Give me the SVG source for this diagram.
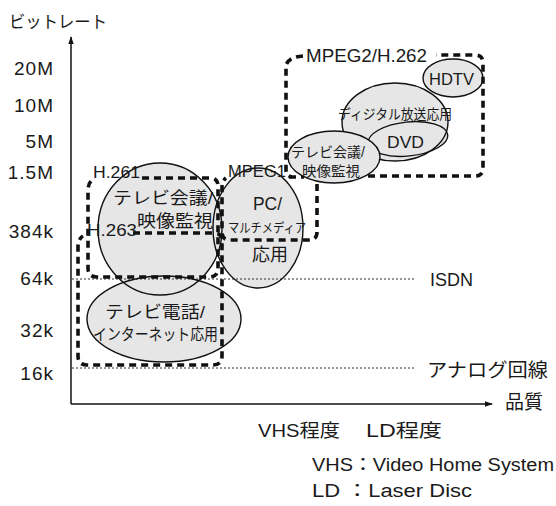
<svg xmlns="http://www.w3.org/2000/svg" width="556" height="506" viewBox="0 0 556 506">
<style>
text{font-family:'Liberation Sans','Noto Sans CJK JP',sans-serif;fill:#1a1a1a;}
.ja{font-family:'Noto Sans CJK JP',sans-serif;}
.fill{fill:#e6e6e6;stroke:none;}
.ell{fill:none;stroke:#111;stroke-width:1.4;}
.dash{fill:none;stroke:#111;stroke-width:3.6;stroke-dasharray:7 5;stroke-linecap:butt;}
.dot{fill:none;stroke:#333;stroke-width:1;stroke-dasharray:2 2;}
.axis{fill:none;stroke:#111;stroke-width:1.5;}
.yl{font-size:19px;text-anchor:end;letter-spacing:1px;}
</style>
<defs>
<marker id="arr" viewBox="0 0 10 10" refX="9" refY="5" markerWidth="8" markerHeight="8" markerUnits="userSpaceOnUse" orient="auto">
<path d="M0,1.5 L10,5 L0,8.5 Z" fill="#111"/>
</marker>
</defs>
<rect width="556" height="506" fill="#fff"/>

<g id="fills">
<ellipse class="fill" cx="160" cy="229" rx="62" ry="66"/>
<ellipse class="fill" cx="164" cy="319" rx="77" ry="43"/>
<ellipse class="fill" cx="258" cy="228" rx="45" ry="60"/>
<ellipse class="fill" cx="395" cy="122" rx="53" ry="39"/>
<ellipse class="fill" cx="408" cy="139" rx="40" ry="17" transform="rotate(-6 408 139)"/>
<ellipse class="fill" cx="453" cy="78" rx="30" ry="19"/>
</g>

<g id="connectors">
<line class="axis" x1="71" y1="404" x2="71" y2="37" marker-end="url(#arr)"/>
<line class="axis" x1="71" y1="404" x2="492" y2="404" marker-end="url(#arr)"/>
<line class="dot" x1="72" y1="279" x2="416" y2="279"/>
<line class="dot" x1="72" y1="368" x2="416" y2="368"/>
</g>

<g id="axis-labels">
<text x="9" y="28" font-size="17" class="ja" textLength="98" lengthAdjust="spacingAndGlyphs">ビットレート</text>
<text class="yl" x="54" y="75">20M</text>
<text class="yl" x="54" y="112">10M</text>
<text class="yl" x="54" y="148">5M</text>
<text class="yl" x="54" y="179">1.5M</text>
<text class="yl" x="54" y="238">384k</text>
<text class="yl" x="54" y="285">64k</text>
<text class="yl" x="54" y="337">32k</text>
<text class="yl" x="54" y="380">16k</text>
<text x="430" y="286" font-size="18" textLength="43" lengthAdjust="spacingAndGlyphs">ISDN</text>
<text x="427" y="377" font-size="19" class="ja" textLength="121" lengthAdjust="spacingAndGlyphs">アナログ回線</text>
<text x="505" y="409" font-size="19" class="ja" textLength="38" lengthAdjust="spacingAndGlyphs">品質</text>
<text x="258" y="437" font-size="18" textLength="82" lengthAdjust="spacingAndGlyphs">VHS程度</text>
<text x="366" y="437" font-size="18" textLength="76" lengthAdjust="spacingAndGlyphs">LD程度</text>
<text x="312" y="471" font-size="18" textLength="242" lengthAdjust="spacingAndGlyphs">VHS：Video Home System</text>
<text x="312" y="497" font-size="18" textLength="160" lengthAdjust="spacingAndGlyphs">LD ：Laser Disc</text>
</g>

<g id="node-tv-conf">
<ellipse class="ell" cx="160" cy="229" rx="62" ry="66"/>
<text x="113" y="204" font-size="16.5" textLength="100" lengthAdjust="spacingAndGlyphs">テレビ会議/</text>
<text x="137" y="227" font-size="17" class="ja" textLength="76" lengthAdjust="spacingAndGlyphs">映像監視</text>
</g>

<g id="node-tv-phone">
<ellipse class="ell" cx="164" cy="319" rx="77" ry="43"/>
<text x="105" y="318" font-size="17" textLength="100" lengthAdjust="spacingAndGlyphs">テレビ電話/</text>
<text x="93" y="340" font-size="16" class="ja" textLength="125" lengthAdjust="spacingAndGlyphs">インターネット応用</text>
</g>

<g id="node-pc">
<ellipse class="ell" cx="258" cy="228" rx="45" ry="60"/>
<text x="253" y="210" font-size="19" textLength="29" lengthAdjust="spacingAndGlyphs">PC/</text>
<text x="228" y="232" font-size="13" class="ja" textLength="78" lengthAdjust="spacingAndGlyphs">マルチメディア</text>
<text x="252" y="261" font-size="18" class="ja" textLength="36" lengthAdjust="spacingAndGlyphs">応用</text>
</g>

<g id="node-digital">
<ellipse class="ell" cx="395" cy="122" rx="53" ry="39"/>
<text x="338" y="119" font-size="14" class="ja" textLength="114" lengthAdjust="spacingAndGlyphs">ディジタル放送応用</text>
</g>

<g id="node-dvd">
<ellipse class="ell" cx="408" cy="139" rx="40" ry="17" transform="rotate(-6 408 139)"/>
<text x="387" y="148" font-size="17" textLength="37" lengthAdjust="spacingAndGlyphs">DVD</text>
</g>

<g id="node-hdtv">
<ellipse class="ell" cx="453" cy="78" rx="30" ry="19"/>
<text x="429" y="85" font-size="17" textLength="45" lengthAdjust="spacingAndGlyphs">HDTV</text>
</g>

<g id="node-h261">
<path class="dash" d="M142 178 H210 Q218 178 218 186 V268 Q218 277 209 277 H97 Q88 277 88 268 V192 Q88 183 92 180"/>
<text x="93" y="178" font-size="16" textLength="47" lengthAdjust="spacingAndGlyphs">H.261</text>
</g>

<g id="node-h263">
<path class="dash" d="M133 233 H214 Q222 233 222 241 V356 Q222 365 213 365 H87 Q78 365 78 356 V247 Q78 239 83 236"/>
<text x="87" y="236" font-size="16" textLength="50" lengthAdjust="spacingAndGlyphs">H.263</text>
</g>

<g id="node-mpeg1">
<path class="dash" d="M289 177 H304"/>
<path class="dash" d="M317 184 V232 Q317 240 309 240 H230 Q222 240 222 232 V188 Q222 181 226 178"/>
<text x="228" y="177" font-size="16" textLength="58" lengthAdjust="spacingAndGlyphs">MPEG1</text>
</g>

<g id="node-mpeg2">
<path class="dash" d="M303 56 Q289 57 286 65 V170 Q286 176 292 177"/>
<path class="dash" d="M368 176 H475 Q483 176 483 168 V63 Q483 55 475 55 H436"/>
<text x="306" y="62" font-size="17.5" textLength="121" lengthAdjust="spacingAndGlyphs">MPEG2/H.262</text>
</g>

<g id="node-tv-conf-small">
<ellipse cx="334" cy="157" rx="46" ry="26" fill="#e6e6e6" stroke="#111" stroke-width="1.4"/>
<text x="291" y="157" font-size="14" textLength="74" lengthAdjust="spacingAndGlyphs">テレビ会議/</text>
<text x="302" y="176" font-size="14" class="ja" textLength="58" lengthAdjust="spacingAndGlyphs">映像監視</text>
</g>
</svg>
